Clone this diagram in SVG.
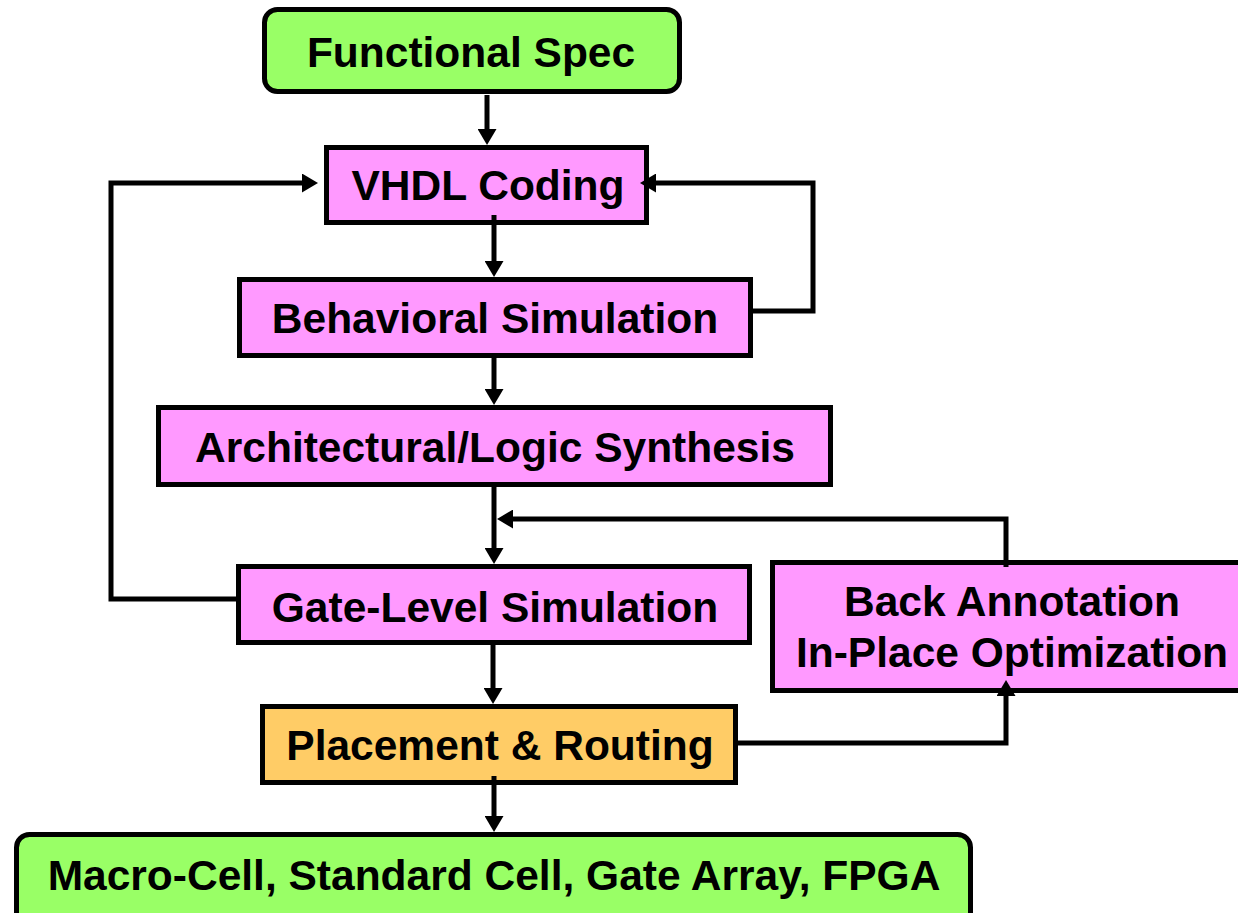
<svg xmlns="http://www.w3.org/2000/svg" width="1238" height="913" viewBox="0 0 1238 913">
  <style>
    .box { stroke: #000; stroke-width: 5; }
    .spec { fill: #99FF66; }
    .step { fill: #FF99FF; }
    .pr { fill: #FFCC66; }
    .lbl { font-family: "Liberation Sans", Arial, sans-serif; font-weight: bold; font-size: 42.5px; fill: #000; text-anchor: middle; }
    .wire { fill: none; stroke: #000; stroke-width: 5; stroke-linejoin: miter; marker-end: url(#head); }
  </style>
  <defs>
    <marker id="head" viewBox="0 0 16 19" refX="3" refY="9.5" markerWidth="16" markerHeight="19" markerUnits="userSpaceOnUse" orient="auto">
      <path d="M0,0 L16,9.5 L0,19 z" fill="#000"/>
    </marker>
  </defs>
  <rect width="1238" height="913" fill="#fff"/>

  <g id="functional-spec">
    <rect class="box spec" x="264.5" y="9.5" width="415" height="82" rx="13"/>
    <text class="lbl" x="471" y="67">Functional Spec</text>
  </g>
  <g id="vhdl-coding">
    <rect class="box step" x="326.5" y="147.5" width="320" height="75"/>
    <text class="lbl" x="488" y="200">VHDL Coding</text>
  </g>
  <g id="behavioral-simulation">
    <rect class="box step" x="239.5" y="279.5" width="511" height="76"/>
    <text class="lbl" x="495" y="333">Behavioral Simulation</text>
  </g>
  <g id="logic-synthesis">
    <rect class="box step" x="158.5" y="407.5" width="672" height="77"/>
    <text class="lbl" x="495" y="462">Architectural/Logic Synthesis</text>
  </g>
  <g id="gate-level-simulation">
    <rect class="box step" x="238.5" y="566.5" width="511" height="76"/>
    <text class="lbl" x="495" y="622">Gate-Level Simulation</text>
  </g>
  <g id="back-annotation">
    <rect class="box step" x="772.5" y="562.5" width="480" height="128"/>
    <text class="lbl" x="1012" y="616">Back Annotation</text>
    <text class="lbl" x="1012" y="667">In-Place Optimization</text>
  </g>
  <g id="placement-routing">
    <rect class="box pr" x="262.5" y="706.5" width="473" height="76"/>
    <text class="lbl" x="500" y="760">Placement &amp; Routing</text>
  </g>
  <g id="targets">
    <rect class="box spec" x="16.5" y="834.5" width="954" height="110" rx="13"/>
    <text class="lbl" x="494" y="890">Macro-Cell, Standard Cell, Gate Array, FPGA</text>
  </g>

  <!-- wires sit above the boxes; each ends where its arrowhead tip meets the target -->
  <g id="connectors">
    <path class="wire" d="M487,95 V132"/>
    <path class="wire" d="M494,215 V264"/>
    <path class="wire" d="M494,356 V392"/>
    <path class="wire" d="M494,486 V551"/>
    <path class="wire" d="M493,644 V691"/>
    <path class="wire" d="M494,776 V819"/>
    <path class="wire" d="M751,311 H813 V183 H653"/>
    <path class="wire" d="M238,599 H111 V183 H305"/>
    <path class="wire" d="M736,743 H1006 V693"/>
    <path class="wire" d="M1006,567 V519 H510"/>
  </g>
</svg>
